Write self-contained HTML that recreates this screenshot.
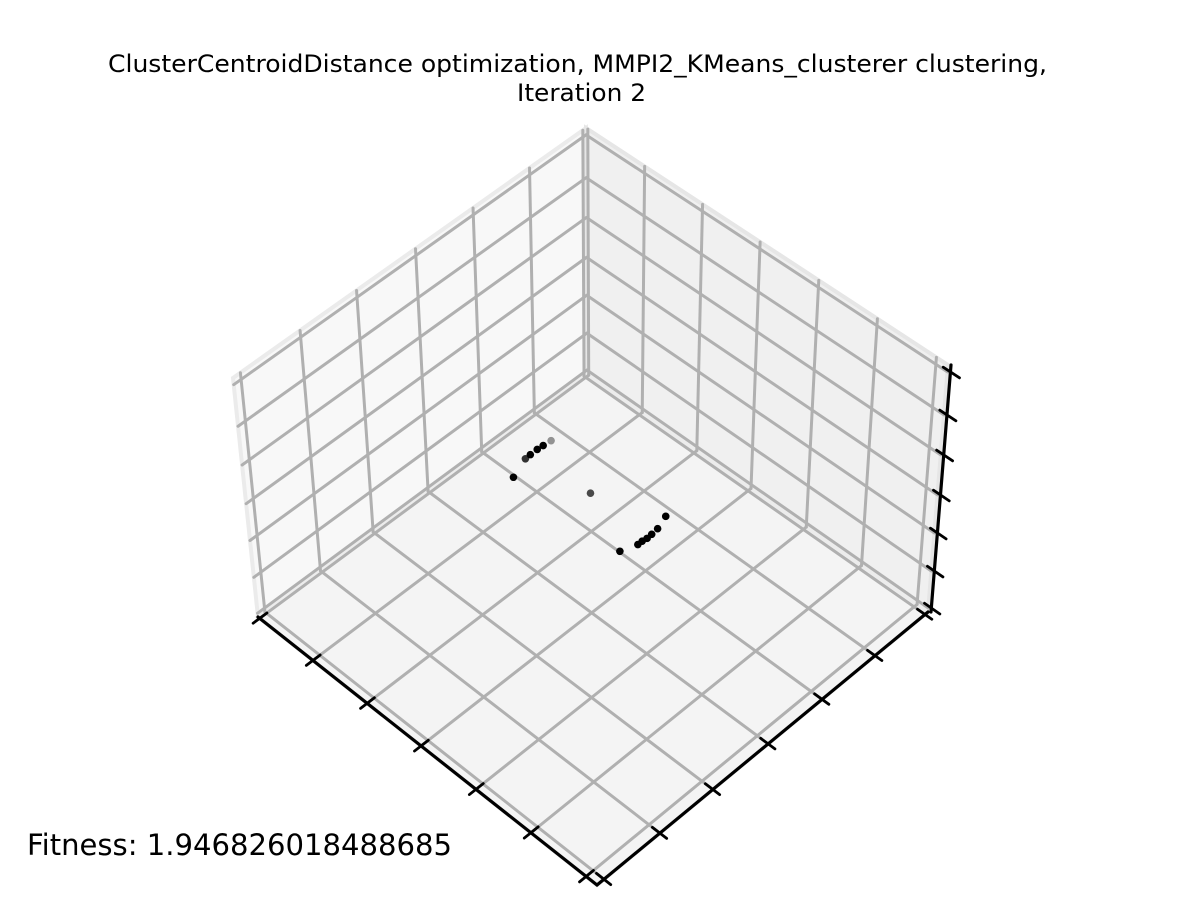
<!DOCTYPE html>
<html><head><meta charset="utf-8"><style>
html,body{margin:0;padding:0;background:#fff;}
svg{display:block;}
text{font-family:"DejaVu Sans","Liberation Sans",sans-serif;}
</style></head><body>
<svg id="chart" width="1200" height="900" viewBox="0 0 1200 900" xmlns="http://www.w3.org/2000/svg">
<text x="108" y="72" font-size="24" textLength="939" lengthAdjust="spacingAndGlyphs" fill="#000">ClusterCentroidDistance optimization, MMPI2_KMeans_clusterer clustering,</text>
<text x="517" y="101" font-size="24" textLength="129" lengthAdjust="spacingAndGlyphs" fill="#000">Iteration 2</text>
<g id="panes"></g>
<g id="grid"></g>
<g id="axes"></g>
<g id="points"></g>
<text x="27" y="855" font-size="29" textLength="425" lengthAdjust="spacingAndGlyphs" fill="#000">Fitness: 1.946826018488685</text>
</svg>
<script>
const xTicks = [0.021, 0.190, 0.350, 0.517, 0.680, 0.840, 0.991];
const yTicks = [0.032, 0.195, 0.357, 0.519, 0.678, 0.838, 0.995];
const zTicks = [0.016, 0.166, 0.320, 0.474, 0.636, 0.798, 0.972];
const xVals = [0.675, 0.731, 0.747, 0.768, 0.785, 0.807, 0.757, 0.682, 0.722, 0.735, 0.748, 0.763, 0.783, 0.820];
const yVals = [0.902, 0.921, 0.922, 0.922, 0.921, 0.919, 0.755, 0.596, 0.582, 0.582, 0.580, 0.581, 0.583, 0.595];
const zVals = [0, 0, 0, 0, 0, 0, 0, 0, 0, 0, 0, 0, 0, 0];
const shade = [1, 0.8, 1, 1, 1, 0.4, 0.7, 1, 1, 1, 1, 1, 1, 1];

const C = {
  '000':[597,885],'100':[258,617],'010':[928,612],'110':[587,374],
  '001':[594,640],'101':[233,378],'011':[948,365],'111':[586,128]
};
function proj(u,v,w){
  let x=0,y=0;
  for(const a of [0,1])for(const b of [0,1])for(const c of [0,1]){
    const wt=(a?u:1-u)*(b?v:1-v)*(c?w:1-w);
    const p=C[''+a+b+c]; x+=wt*p[0]; y+=wt*p[1];
  }
  return [x,y];
}
const NS='http://www.w3.org/2000/svg';
function el(tag,attrs,parent){const e=document.createElementNS(NS,tag);for(const k in attrs)e.setAttribute(k,attrs[k]);parent.appendChild(e);return e;}
function poly(pts){return pts.map(p=>p.join(',')).join(' ');}
const panes=document.getElementById('panes'),grid=document.getElementById('grid'),axes=document.getElementById('axes'),pts=document.getElementById('points');

let e;
e=el('polygon',{points:poly([proj(1,0,0),proj(1,1,0),proj(1,1,1),proj(1,0,1)]),fill:'#f8f8f8',stroke:'#ebebeb','stroke-width':4},panes);


e=el('polygon',{points:poly([proj(0,1,0),proj(1,1,0),proj(1,1,1),proj(0,1,1)]),fill:'#f0f0f0',stroke:'#e6e6e6','stroke-width':4},panes);


e=el('polygon',{points:poly([proj(0,0,0),proj(1,0,0),proj(1,1,0),proj(0,1,0)]),fill:'#f4f4f4',stroke:'#ececec','stroke-width':4},panes);



function line(a,b,stroke,w,parent,name){
  const l=el('line',{x1:a[0],y1:a[1],x2:b[0],y2:b[1],stroke:stroke,'stroke-width':w,'stroke-linecap':'round'},parent);
  
  
  return l;
}
const G='#b0b0b0';
const GW=3;
yTicks.forEach(t=>line(proj(t,0,0),proj(t,1,0),G,GW,grid,'floor-grid-y'));
xTicks.forEach(t=>line(proj(0,t,0),proj(1,t,0),G,GW,grid,'floor-grid-x'));
xTicks.forEach(t=>line(proj(1,t,0),proj(1,t,1),G,GW,grid,'left-wall-grid-x'));
zTicks.forEach(t=>line(proj(1,0,t),proj(1,1,t),G,GW,grid,'left-wall-grid-z'));
yTicks.forEach(t=>line(proj(t,1,0),proj(t,1,1),G,GW,grid,'right-wall-grid-y'));
zTicks.forEach(t=>line(proj(0,1,t),proj(1,1,t),G,GW,grid,'right-wall-grid-z'));

line(proj(1,0,0),proj(0,0,0),'#000',3.2,axes,'y-axis-line');
line(proj(0,0,0),proj(0,1,0),'#000',3.2,axes,'x-axis-line');
const zo=[3,0];
let za=proj(0,1,0),zb=proj(0,1,1);
line([za[0]+zo[0],za[1]],[zb[0]+zo[0],zb[1]],'#000',3.2,axes,'z-axis-line');
yTicks.forEach(t=>line(proj(t,-0.02,0),proj(t,0.022,0),'#000',2.8,axes,'y-axis-tick'));
xTicks.forEach(t=>line(proj(-0.02,t,0),proj(0.022,t,0),'#000',2.8,axes,'x-axis-tick'));
zTicks.forEach(t=>{const a=proj(-0.025,1,t),b=proj(0.02,1,t);line([a[0]+zo[0],a[1]],[b[0]+zo[0],b[1]],'#000',2.8,axes,'z-axis-tick');});

xVals.forEach((xv,i)=>{
  const p=proj(yVals[i],xv,zVals[i]);
  const c=el('circle',{cx:p[0],cy:p[1],r:3.8,fill:'#000','fill-opacity':shade[i]},pts);
  
  
});
</script>
</body></html>
